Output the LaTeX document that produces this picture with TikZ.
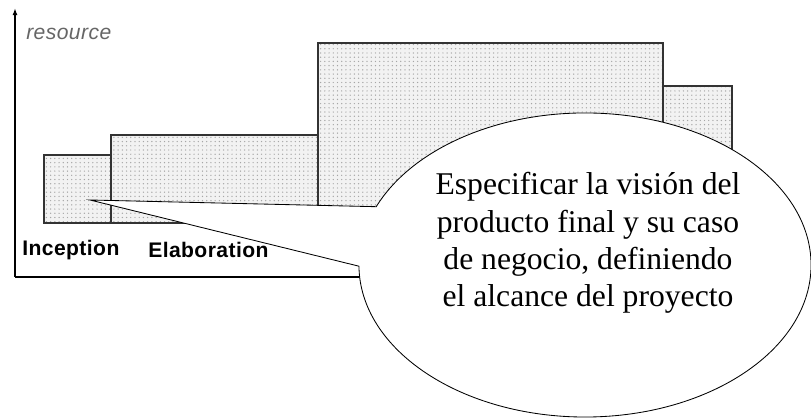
\documentclass[tikz,border=0pt]{standalone}
\usepackage{fontspec}
\setmainfont{Liberation Serif}
\setsansfont{Liberation Sans}
\usetikzlibrary{patterns,shapes.callouts,arrows.meta}
\tikzset{phase box/.style={draw=black!80, line width=0.9pt, preaction={fill=black!5}, pattern=dots, pattern color=black!35}}
\tikzset{phase name/.style={anchor=base west, inner sep=0pt, font=\sffamily\bfseries\fontsize{15}{17}\selectfont\addfontfeature{LetterSpace=2}}}

\begin{document}
\begin{tikzpicture}[x=0.025cm, y=0.025cm]
\useasboundingbox (0,0) rectangle (811,420);
\coordinate (origin) at (15,143);
\coordinate (ytop) at (15,412);
\coordinate (xend) at (700,143);
\draw [-{Latex[length=5pt,width=3.5pt]}, line width=1pt] (origin) -- (ytop);
\draw [line width=1pt] (origin) -- (xend);
\path [phase box] (44,197) rectangle (111,265);
\path [phase box] (111,197) rectangle (318,285);
\path [phase box] (318,197) rectangle (663,377);
\path [phase box] (663,197) rectangle (732,334);
\node (res) [anchor=base west, inner sep=0pt, text=black!60, font=\sffamily\itshape\fontsize{15}{17}\selectfont\addfontfeature{LetterSpace=2}] at (26,380) {resource};
\node (inc) [phase name] at (22,164) {Inception};
\node (elab) [phase name] at (148,162) {Elaboration};
\coordinate (tip) at (90,220);
\node (bubble) [ellipse callout, draw, line width=0.6pt, fill=white, inner sep=0pt, minimum width=11.3cm, minimum height=7.6cm, callout absolute pointer={(tip)}, callout pointer arc=23] at (585,155) {};
\node (vision) [align=center, font=\fontsize{22.5}{26.6}\selectfont] at (588,177) {Especificar la visión del\\producto final y su caso\\de negocio, definiendo\\el alcance del proyecto};
\end{tikzpicture}
\end{document}
